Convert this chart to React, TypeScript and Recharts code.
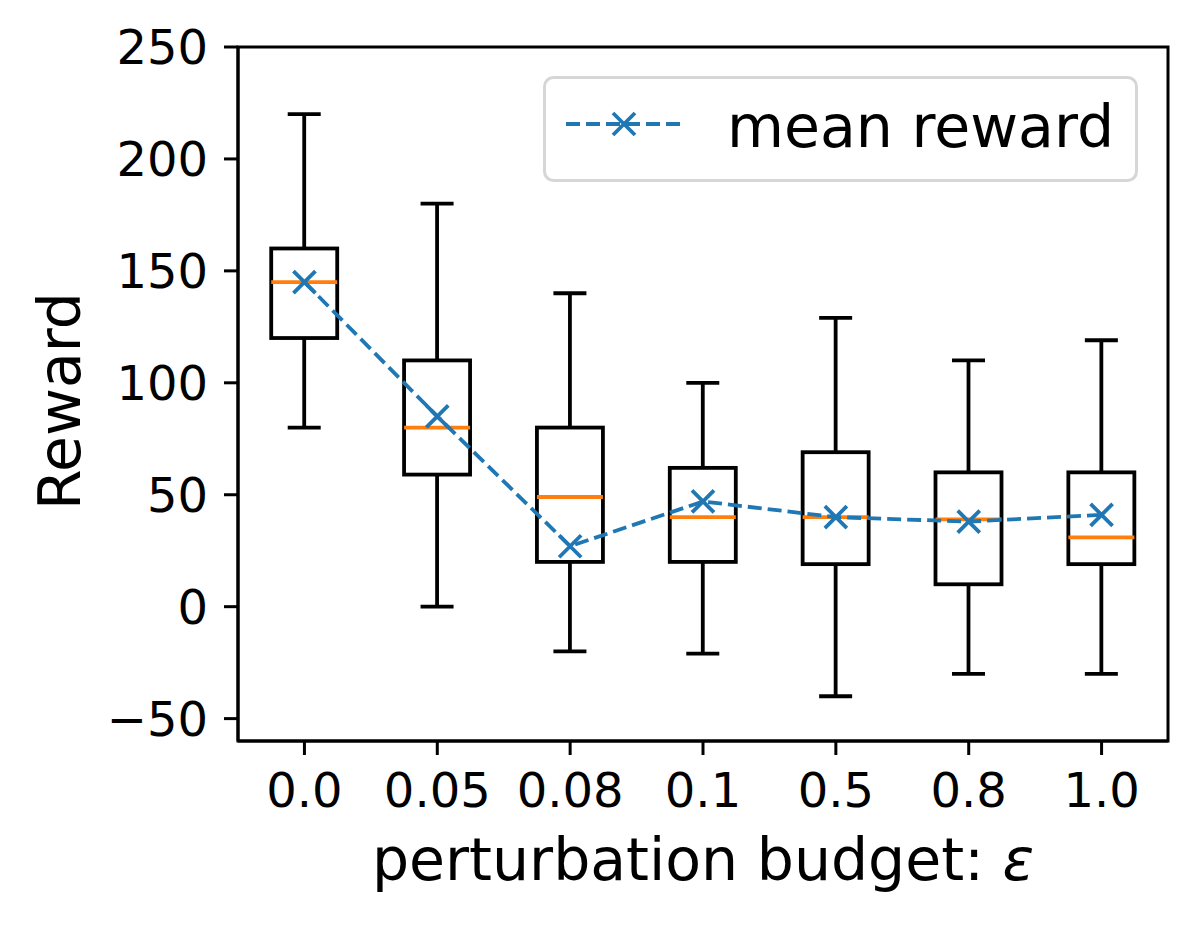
import React from 'react';
import { ComposedChart, Bar, Line, XAxis, YAxis, ReferenceArea, Legend } from 'recharts';

const epsilons = ['0.0', '0.05', '0.08', '0.1', '0.5', '0.8', '1.0'];
const whiskerLow = [80, 0, -20, -21, -40, -30, -30];
const quartile1 = [120, 59, 20, 20, 19, 10, 19];
const medians = [145, 80, 49, 40, 40, 39, 31];
const quartile3 = [160, 110, 80, 62, 69, 60, 60];
const whiskerHigh = [220, 180, 140, 100, 129, 110, 119];
const meanReward = [145, 85, 27, 47, 40, 38, 41];
const yTicks = [-50, 0, 50, 100, 150, 200, 250];

const BLUE = '#1f77b4';
const ORANGE = '#ff7f0e';
const FONT = 'DejaVu Sans';
const LABEL_SIZE = 58.5;

const data = epsilons.map((eps, i) => ({
  eps,
  low: whiskerLow[i],
  q1: quartile1[i],
  median: medians[i],
  q3: quartile3[i],
  high: whiskerHigh[i],
  mean: meanReward[i],
}));

const BoxShape = (props: any) => {
  const { x, y, width, height, payload } = props;
  const top = Math.min(y, y + height);
  const bottom = Math.max(y, y + height);
  const span = payload.high - payload.low;
  const py = (v: number) => bottom - ((v - payload.low) / span) * (bottom - top);
  const cx = x + width / 2;
  const capHalf = width / 4;
  const lw = 3.8;
  return (
    <g>
      <line x1={cx} x2={cx} y1={py(payload.high)} y2={py(payload.q3)} stroke="#000" strokeWidth={lw} />
      <line x1={cx} x2={cx} y1={py(payload.q1)} y2={py(payload.low)} stroke="#000" strokeWidth={lw} />
      <line x1={cx - capHalf} x2={cx + capHalf} y1={py(payload.high)} y2={py(payload.high)} stroke="#000" strokeWidth={lw} />
      <line x1={cx - capHalf} x2={cx + capHalf} y1={py(payload.low)} y2={py(payload.low)} stroke="#000" strokeWidth={lw} />
      <rect
        x={x}
        y={py(payload.q3)}
        width={width}
        height={py(payload.q1) - py(payload.q3)}
        fill="none"
        stroke="#000"
        strokeWidth={lw}
        strokeLinejoin="miter"
      />
      <line x1={x} x2={x + width} y1={py(payload.median)} y2={py(payload.median)} stroke={ORANGE} strokeWidth={lw} />
    </g>
  );
};

const XMark = ({ cx, cy }: { cx?: number; cy?: number }) => {
  if (cx == null || cy == null) return null;
  const s = 11;
  return (
    <path
      d={`M${cx - s},${cy - s}L${cx + s},${cy + s}M${cx - s},${cy + s}L${cx + s},${cy - s}`}
      stroke={BLUE}
      strokeWidth={3.8}
      fill="none"
    />
  );
};

const MeanLegend = () => (
  <svg width={595} height={106} style={{ display: 'block' }}>
    <rect x={1.5} y={1.5} width={592} height={103} rx={9} fill="#fff" fillOpacity={0.8} stroke="#d6d6d6" strokeWidth={3} />
    <line x1={23} x2={140} y1={48} y2={48} stroke={BLUE} strokeWidth={3.8} strokeDasharray="14 6" />
    <XMark cx={81} cy={48} />
    <text x={184} y={71} fontSize={LABEL_SIZE} fontFamily={FONT} fill="#000">
      mean reward
    </text>
  </svg>
);

export default function App() {
  return (
    <div style={{ width: 1198, height: 926 }}>
      <style>{`body{margin:0}`}</style>
      <ComposedChart
        width={1198}
        height={926}
        data={data}
        margin={{ top: 47, right: 30, bottom: 85, left: 38 }}
        barCategoryGap="25%"
        style={{ fontFamily: FONT }}
      >
        <XAxis
          dataKey="eps"
          type="category"
          height={100}
          tickSize={14}
          tickMargin={18}
          tick={{ fontSize: 48, fill: '#000' }}
          tickLine={{ stroke: '#000', strokeWidth: 3 }}
          axisLine={{ stroke: '#000', strokeWidth: 3 }}
          interval={0}
          label={{
            content: ({ viewBox }: any) => (
              <text
                x={viewBox.x + viewBox.width / 2}
                y={viewBox.y + 139}
                textAnchor="middle"
                fontSize={LABEL_SIZE}
                fontFamily={FONT}
                fill="#000"
              >
                perturbation budget: <tspan fontStyle="italic">ε</tspan>
              </text>
            ),
          }}
        />
        <YAxis
          type="number"
          domain={[-60, 250]}
          ticks={yTicks}
          width={200}
          tickSize={14}
          tickMargin={16}
          tick={{ fontSize: 48, fill: '#000' }}
          tickLine={{ stroke: '#000', strokeWidth: 3 }}
          axisLine={{ stroke: '#000', strokeWidth: 3 }}
          tickFormatter={(v: number) => (v < 0 ? `\u2212${Math.abs(v)}` : `${v}`)}
          label={{
            content: ({ viewBox }: any) => {
              const lx = viewBox.x + 42;
              const ly = viewBox.y + viewBox.height / 2 + 7;
              return (
                <text
                  x={lx}
                  y={ly}
                  transform={`rotate(-90, ${lx}, ${ly})`}
                  textAnchor="middle"
                  fontSize={LABEL_SIZE}
                  fontFamily={FONT}
                  fill="#000"
                >
                  Reward
                </text>
              );
            },
          }}
        />
        <ReferenceArea y1={-60} y2={250} fill="none" stroke="#000" strokeWidth={3} />
        <Bar
          dataKey={(d: any) => [d.low, d.high]}
          shape={BoxShape}
          legendType="none"
          isAnimationActive={false}
        />
        <Line
          dataKey="mean"
          name="mean reward"
          stroke={BLUE}
          strokeWidth={3.8}
          strokeDasharray="14 6"
          dot={(p: any) => <XMark key={`m-${p.index}`} cx={p.cx} cy={p.cy} />}
          activeDot={false}
          isAnimationActive={false}
        />
        <Legend
          layout="horizontal"
          verticalAlign="middle"
          align="center"
          wrapperStyle={{ position: 'absolute', left: 543, top: 76, width: 595, height: 106 }}
          content={() => <MeanLegend />}
        />
      </ComposedChart>
    </div>
  );
}
